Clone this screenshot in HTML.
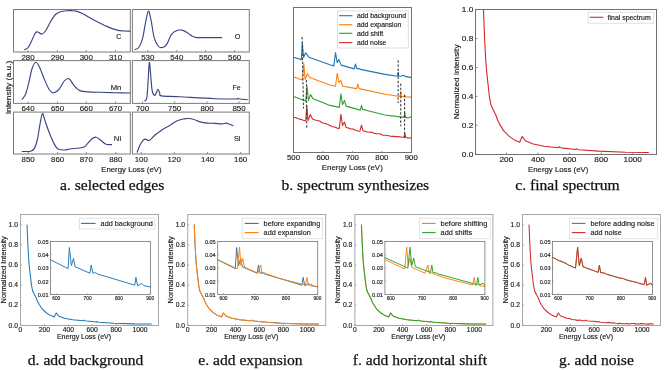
<!DOCTYPE html>
<html><head><meta charset="utf-8"><title>figure</title>
<style>html,body{margin:0;padding:0;background:#fff;width:670px;height:370px;overflow:hidden}svg{display:block;will-change:transform}</style>
</head><body>
<svg width="670" height="370" viewBox="0 0 670 370">
<rect x="0" y="0" width="670" height="370" fill="#fff"/>
<rect x="13.5" y="9.5" width="116.8" height="42.5" fill="none" stroke="#7a7a7a" stroke-width="1"/>
<rect x="132.4" y="9.5" width="116.9" height="42.5" fill="none" stroke="#7a7a7a" stroke-width="1"/>
<rect x="13.5" y="60.6" width="116.8" height="42.8" fill="none" stroke="#7a7a7a" stroke-width="1"/>
<rect x="132.4" y="60.6" width="116.9" height="42.8" fill="none" stroke="#7a7a7a" stroke-width="1"/>
<rect x="13.5" y="112.1" width="116.8" height="41.9" fill="none" stroke="#7a7a7a" stroke-width="1"/>
<rect x="132.4" y="112.1" width="116.9" height="41.9" fill="none" stroke="#7a7a7a" stroke-width="1"/>
<line x1="28" y1="52" x2="28" y2="50" stroke="#7a7a7a" stroke-width="0.8" />
<text x="21.41" y="59.86" font-family="'Liberation Sans', sans-serif" font-size="8" fill="#222" stroke="#222" stroke-width="0.15" textLength="13.17" lengthAdjust="spacingAndGlyphs">280</text>
<line x1="57.5" y1="52" x2="57.5" y2="50" stroke="#7a7a7a" stroke-width="0.8" />
<text x="50.91" y="59.86" font-family="'Liberation Sans', sans-serif" font-size="8" fill="#222" stroke="#222" stroke-width="0.15" textLength="13.17" lengthAdjust="spacingAndGlyphs">290</text>
<line x1="86.3" y1="52" x2="86.3" y2="50" stroke="#7a7a7a" stroke-width="0.8" />
<text x="79.71" y="59.86" font-family="'Liberation Sans', sans-serif" font-size="8" fill="#222" stroke="#222" stroke-width="0.15" textLength="13.17" lengthAdjust="spacingAndGlyphs">300</text>
<line x1="115.5" y1="52" x2="115.5" y2="50" stroke="#7a7a7a" stroke-width="0.8" />
<text x="108.91" y="59.86" font-family="'Liberation Sans', sans-serif" font-size="8" fill="#222" stroke="#222" stroke-width="0.15" textLength="13.17" lengthAdjust="spacingAndGlyphs">310</text>
<line x1="147.8" y1="52" x2="147.8" y2="50" stroke="#7a7a7a" stroke-width="0.8" />
<text x="141.21" y="59.86" font-family="'Liberation Sans', sans-serif" font-size="8" fill="#222" stroke="#222" stroke-width="0.15" textLength="13.17" lengthAdjust="spacingAndGlyphs">530</text>
<line x1="176.8" y1="52" x2="176.8" y2="50" stroke="#7a7a7a" stroke-width="0.8" />
<text x="170.21" y="59.86" font-family="'Liberation Sans', sans-serif" font-size="8" fill="#222" stroke="#222" stroke-width="0.15" textLength="13.17" lengthAdjust="spacingAndGlyphs">540</text>
<line x1="205.6" y1="52" x2="205.6" y2="50" stroke="#7a7a7a" stroke-width="0.8" />
<text x="199.01" y="59.86" font-family="'Liberation Sans', sans-serif" font-size="8" fill="#222" stroke="#222" stroke-width="0.15" textLength="13.17" lengthAdjust="spacingAndGlyphs">550</text>
<line x1="234.6" y1="52" x2="234.6" y2="50" stroke="#7a7a7a" stroke-width="0.8" />
<text x="228.01" y="59.86" font-family="'Liberation Sans', sans-serif" font-size="8" fill="#222" stroke="#222" stroke-width="0.15" textLength="13.17" lengthAdjust="spacingAndGlyphs">560</text>
<line x1="28" y1="103.4" x2="28" y2="101.4" stroke="#7a7a7a" stroke-width="0.8" />
<text x="21.41" y="111.16" font-family="'Liberation Sans', sans-serif" font-size="8" fill="#222" stroke="#222" stroke-width="0.15" textLength="13.17" lengthAdjust="spacingAndGlyphs">640</text>
<line x1="57.5" y1="103.4" x2="57.5" y2="101.4" stroke="#7a7a7a" stroke-width="0.8" />
<text x="50.91" y="111.16" font-family="'Liberation Sans', sans-serif" font-size="8" fill="#222" stroke="#222" stroke-width="0.15" textLength="13.17" lengthAdjust="spacingAndGlyphs">650</text>
<line x1="86.3" y1="103.4" x2="86.3" y2="101.4" stroke="#7a7a7a" stroke-width="0.8" />
<text x="79.71" y="111.16" font-family="'Liberation Sans', sans-serif" font-size="8" fill="#222" stroke="#222" stroke-width="0.15" textLength="13.17" lengthAdjust="spacingAndGlyphs">660</text>
<line x1="115.5" y1="103.4" x2="115.5" y2="101.4" stroke="#7a7a7a" stroke-width="0.8" />
<text x="108.91" y="111.16" font-family="'Liberation Sans', sans-serif" font-size="8" fill="#222" stroke="#222" stroke-width="0.15" textLength="13.17" lengthAdjust="spacingAndGlyphs">670</text>
<line x1="142.5" y1="103.4" x2="142.5" y2="101.4" stroke="#7a7a7a" stroke-width="0.8" />
<text x="135.91" y="111.16" font-family="'Liberation Sans', sans-serif" font-size="8" fill="#222" stroke="#222" stroke-width="0.15" textLength="13.17" lengthAdjust="spacingAndGlyphs">700</text>
<line x1="174.6" y1="103.4" x2="174.6" y2="101.4" stroke="#7a7a7a" stroke-width="0.8" />
<text x="168.01" y="111.16" font-family="'Liberation Sans', sans-serif" font-size="8" fill="#222" stroke="#222" stroke-width="0.15" textLength="13.17" lengthAdjust="spacingAndGlyphs">750</text>
<line x1="207" y1="103.4" x2="207" y2="101.4" stroke="#7a7a7a" stroke-width="0.8" />
<text x="200.41" y="111.16" font-family="'Liberation Sans', sans-serif" font-size="8" fill="#222" stroke="#222" stroke-width="0.15" textLength="13.17" lengthAdjust="spacingAndGlyphs">800</text>
<line x1="239" y1="103.4" x2="239" y2="101.4" stroke="#7a7a7a" stroke-width="0.8" />
<text x="232.41" y="111.16" font-family="'Liberation Sans', sans-serif" font-size="8" fill="#222" stroke="#222" stroke-width="0.15" textLength="13.17" lengthAdjust="spacingAndGlyphs">850</text>
<line x1="28.1" y1="154" x2="28.1" y2="152" stroke="#7a7a7a" stroke-width="0.8" />
<text x="21.51" y="162.06" font-family="'Liberation Sans', sans-serif" font-size="8" fill="#222" stroke="#222" stroke-width="0.15" textLength="13.17" lengthAdjust="spacingAndGlyphs">850</text>
<line x1="57.6" y1="154" x2="57.6" y2="152" stroke="#7a7a7a" stroke-width="0.8" />
<text x="51.01" y="162.06" font-family="'Liberation Sans', sans-serif" font-size="8" fill="#222" stroke="#222" stroke-width="0.15" textLength="13.17" lengthAdjust="spacingAndGlyphs">860</text>
<line x1="86.3" y1="154" x2="86.3" y2="152" stroke="#7a7a7a" stroke-width="0.8" />
<text x="79.71" y="162.06" font-family="'Liberation Sans', sans-serif" font-size="8" fill="#222" stroke="#222" stroke-width="0.15" textLength="13.17" lengthAdjust="spacingAndGlyphs">870</text>
<line x1="115.8" y1="154" x2="115.8" y2="152" stroke="#7a7a7a" stroke-width="0.8" />
<text x="109.21" y="162.06" font-family="'Liberation Sans', sans-serif" font-size="8" fill="#222" stroke="#222" stroke-width="0.15" textLength="13.17" lengthAdjust="spacingAndGlyphs">880</text>
<line x1="141.3" y1="154" x2="141.3" y2="152" stroke="#7a7a7a" stroke-width="0.8" />
<text x="134.71" y="162.06" font-family="'Liberation Sans', sans-serif" font-size="8" fill="#222" stroke="#222" stroke-width="0.15" textLength="13.17" lengthAdjust="spacingAndGlyphs">100</text>
<line x1="174.2" y1="154" x2="174.2" y2="152" stroke="#7a7a7a" stroke-width="0.8" />
<text x="167.61" y="162.06" font-family="'Liberation Sans', sans-serif" font-size="8" fill="#222" stroke="#222" stroke-width="0.15" textLength="13.17" lengthAdjust="spacingAndGlyphs">120</text>
<line x1="207.6" y1="154" x2="207.6" y2="152" stroke="#7a7a7a" stroke-width="0.8" />
<text x="201.01" y="162.06" font-family="'Liberation Sans', sans-serif" font-size="8" fill="#222" stroke="#222" stroke-width="0.15" textLength="13.17" lengthAdjust="spacingAndGlyphs">140</text>
<line x1="240.6" y1="154" x2="240.6" y2="152" stroke="#7a7a7a" stroke-width="0.8" />
<text x="234.01" y="162.06" font-family="'Liberation Sans', sans-serif" font-size="8" fill="#222" stroke="#222" stroke-width="0.15" textLength="13.17" lengthAdjust="spacingAndGlyphs">160</text>
<text x="116.22" y="38.79" font-family="'Liberation Sans', sans-serif" font-size="7.8" fill="#222" stroke="#222" stroke-width="0.15" textLength="4.96" lengthAdjust="spacingAndGlyphs">C</text>
<text x="234.71" y="38.79" font-family="'Liberation Sans', sans-serif" font-size="7.8" fill="#222" stroke="#222" stroke-width="0.15" textLength="5.59" lengthAdjust="spacingAndGlyphs">O</text>
<text x="110.69" y="89.99" font-family="'Liberation Sans', sans-serif" font-size="7.8" fill="#222" stroke="#222" stroke-width="0.15" textLength="10.63" lengthAdjust="spacingAndGlyphs">Mn</text>
<text x="232.47" y="89.79" font-family="'Liberation Sans', sans-serif" font-size="7.8" fill="#222" stroke="#222" stroke-width="0.15" textLength="8.06" lengthAdjust="spacingAndGlyphs">Fe</text>
<text x="113.86" y="140.99" font-family="'Liberation Sans', sans-serif" font-size="7.8" fill="#222" stroke="#222" stroke-width="0.15" textLength="7.28" lengthAdjust="spacingAndGlyphs">Ni</text>
<text x="233.96" y="140.79" font-family="'Liberation Sans', sans-serif" font-size="7.8" fill="#222" stroke="#222" stroke-width="0.15" textLength="6.48" lengthAdjust="spacingAndGlyphs">Si</text>
<text x="-26.84" y="0" transform="translate(11.4 87.5) rotate(-90)" font-family="'Liberation Sans', sans-serif" font-size="7.3" fill="#222" stroke="#222" stroke-width="0.15" textLength="53.68" lengthAdjust="spacingAndGlyphs">Intensity (a.u.)</text>
<text x="101.21" y="171.87" font-family="'Liberation Sans', sans-serif" font-size="6.9" fill="#222" stroke="#222" stroke-width="0.15" textLength="60.38" lengthAdjust="spacingAndGlyphs">Energy Loss (eV)</text>
<path d="M24.8 49.6 C25.35 49.25 26.92 49.05 28.1 47.5 C29.28 45.95 30.75 42.63 31.9 40.3 C33.05 37.97 34.18 34.9 35 33.5 C35.82 32.1 36.13 32.05 36.8 31.9 C37.47 31.75 38.17 32.23 39 32.6 C39.83 32.97 40.72 34.37 41.8 34.1 C42.88 33.83 44.05 33.07 45.5 31 C46.95 28.93 48.83 24.45 50.5 21.7 C52.17 18.95 53.85 16.17 55.5 14.5 C57.15 12.83 58.53 12.33 60.4 11.7 C62.27 11.07 64.77 10.87 66.7 10.7 C68.63 10.53 70.42 10.63 72 10.7 C73.58 10.77 74.47 10.62 76.2 11.1 C77.93 11.58 79.3 12.05 82.4 13.6 C85.5 15.15 90.65 18.23 94.8 20.4 C98.95 22.57 103.57 24.98 107.3 26.6 C111.03 28.22 114.52 29.37 117.2 30.1 C119.88 30.83 121.23 30.82 123.4 31 C125.57 31.18 129.07 31.17 130.2 31.2" fill="none" stroke="#3b4584" stroke-width="1.15" stroke-linejoin="round" stroke-linecap="round"/>
<path d="M135 49.4 C135.62 49.08 137.47 49.22 138.7 47.5 C139.93 45.78 141.27 43.2 142.4 39.1 C143.53 35 144.5 27.57 145.5 22.9 C146.5 18.23 147.47 11.52 148.4 11.1 C149.33 10.68 150.13 15.95 151.1 20.4 C152.07 24.85 152.95 33.45 154.2 37.8 C155.45 42.15 157.25 44.88 158.6 46.5 C159.95 48.12 160.97 47.82 162.3 47.5 C163.63 47.18 165.15 46.63 166.6 44.6 C168.05 42.57 169.65 37.5 171 35.3 C172.35 33.1 172.83 32.27 174.7 31.4 C176.57 30.53 179.92 29.75 182.2 30.1 C184.48 30.45 186.77 32.52 188.4 33.5 C190.03 34.48 190.9 35.38 192 36 C193.1 36.62 193.68 36.93 195 37.2 C196.32 37.47 195.45 37.53 199.9 37.6 C204.35 37.67 218.07 37.6 221.7 37.6" fill="none" stroke="#3b4584" stroke-width="1.15" stroke-linejoin="round" stroke-linecap="round"/>
<path d="M22.2 99.2 C22.78 98.33 24.6 96.73 25.7 94 C26.8 91.27 27.77 86.93 28.8 82.8 C29.83 78.67 30.77 72.62 31.9 69.2 C33.03 65.78 34.37 62.72 35.6 62.3 C36.83 61.88 37.85 63.9 39.3 66.7 C40.75 69.5 42.63 75.27 44.3 79.1 C45.97 82.93 47.75 87.42 49.3 89.7 C50.85 91.98 51.95 92.9 53.6 92.8 C55.25 92.7 57.43 91.07 59.2 89.1 C60.97 87.13 62.75 82.77 64.2 81 C65.65 79.23 66.93 78.72 67.9 78.5 C68.87 78.28 69.23 78.9 70 79.7 C70.77 80.5 71.67 82.15 72.5 83.3 C73.33 84.45 74.17 85.63 75 86.6 C75.83 87.57 76.67 88.43 77.5 89.1 C78.33 89.77 79.08 90.22 80 90.6 C80.92 90.98 81.67 91.18 83 91.4 C84.33 91.62 85.17 91.75 88 91.9 C90.83 92.05 95.5 92.17 100 92.3 C104.5 92.43 109.97 92.58 115 92.7 C120.03 92.82 127.67 92.95 130.2 93" fill="none" stroke="#3b4584" stroke-width="1.15" stroke-linejoin="round" stroke-linecap="round"/>
<path d="M144.9 100.9 C145.22 100.38 146.28 100.82 146.8 97.8 C147.32 94.78 147.58 88.65 148 82.8 C148.42 76.95 148.88 64.35 149.3 62.7 C149.72 61.05 150.03 68.3 150.5 72.9 C150.97 77.5 151.48 86.57 152.1 90.3 C152.72 94.03 153.58 94.68 154.2 95.3 C154.82 95.92 155.17 95 155.8 94 C156.43 93 157.33 89.4 158 89.3 C158.67 89.2 159.18 92.3 159.8 93.4 C160.42 94.5 158.38 95.33 161.7 95.9 C165.02 96.47 170.85 96.33 179.7 96.8 C188.55 97.27 205.42 98.33 214.8 98.7 C224.18 99.07 232.17 99.05 236 99 C239.83 98.95 237.22 98.4 237.8 98.4 C238.38 98.4 237.95 98.8 239.5 99 C241.05 99.2 245.83 99.5 247.1 99.6" fill="none" stroke="#3b4584" stroke-width="1.15" stroke-linejoin="round" stroke-linecap="round"/>
<path d="M22.2 151.5 C23.6 151.45 28.57 151.72 30.6 151.2 C32.63 150.68 33.25 150.43 34.4 148.4 C35.55 146.37 36.57 143.05 37.5 139 C38.43 134.95 39.18 128.33 40 124.1 C40.82 119.87 41.58 114.22 42.4 113.6 C43.22 112.98 43.75 117.2 44.9 120.4 C46.05 123.6 47.75 128.87 49.3 132.8 C50.85 136.73 52.75 141.3 54.2 144 C55.65 146.7 56.33 148 58 149 C59.67 150 62.2 150 64.2 150 C66.2 150 66.97 149.42 70 149 C73.03 148.58 79.72 148.12 82.4 147.5 C85.08 146.88 84.55 146.72 86.1 145.3 C87.65 143.88 90.03 140.35 91.7 139 C93.37 137.65 94.55 136.95 96.1 137.2 C97.65 137.45 99.35 139.32 101 140.5 C102.65 141.68 104.23 143.62 106 144.3 C107.77 144.98 110.67 144.55 111.6 144.6" fill="none" stroke="#3b4584" stroke-width="1.15" stroke-linejoin="round" stroke-linecap="round"/>
<path d="M137.2 152.1 C137.65 150.97 138.93 147.27 139.9 145.3 C140.87 143.33 142.07 141.33 143 140.3 C143.93 139.27 144.45 139.07 145.5 139.1 C146.55 139.13 147.75 141.13 149.3 140.5 C150.85 139.87 152.63 137.1 154.8 135.3 C156.97 133.5 159.8 131.35 162.3 129.7 C164.8 128.05 167.22 126.92 169.8 125.4 C172.38 123.88 175.43 121.68 177.8 120.6 C180.17 119.52 182.13 119.25 184 118.9 C185.87 118.55 187.33 118.4 189 118.5 C190.67 118.6 192.33 119 194 119.5 C195.67 120 197.17 120.93 199 121.5 C200.83 122.07 202.37 122.58 205 122.9 C207.63 123.22 211.97 123.23 214.8 123.4 C217.63 123.57 220.13 123.95 222 123.9 C223.87 123.85 224.83 123.08 226 123.1 C227.17 123.12 227.85 123.58 229 124 C230.15 124.42 232.25 125.33 232.9 125.6" fill="none" stroke="#3b4584" stroke-width="1.15" stroke-linejoin="round" stroke-linecap="round"/>
<path d="M293.5 57.3 L301.4 59.6 L302.3 43 L303.6 57.5 L305.6 52.8 L308.9 57.2 L330 64.7 L333.9 65.9 L335.5 52.6 L337.2 62.7 L338.8 59.5 L341.2 65.1 L354.2 68.9 L355.5 64 L356.8 68.6 L359 68.6 L360.5 69.4 L385 74.4 L397.6 76.2 L398.2 72 L398.8 76.2 L401 76.3 L403.6 75.2 L405 76.4 L411.5 77.6" fill="none" stroke="#1f77b4" stroke-width="1.1" stroke-linejoin="round" stroke-linecap="round" />
<path d="M293.5 77.1 L302.4 80.1 L303.8 63.6 L305.1 79.5 L307.3 73.6 L309.6 77.6 L330 85 L335.5 86.2 L337.2 73.2 L338.9 82.5 L340.7 80.5 L342.8 86.2 L356.6 88.6 L357.8 84.1 L359 88.6 L385 94.3 L400 96.5 L400.7 91.8 L401.4 96.6 L403.5 96.6 L404.6 95.5 L405.6 96.9 L411.5 97.1" fill="none" stroke="#ff7f0e" stroke-width="1.1" stroke-linejoin="round" stroke-linecap="round" />
<path d="M293.5 96.4 L305.7 101.1 L307 86 L308.4 100.5 L310.5 94.6 L312.7 98.4 L330 105.4 L339.3 107.4 L340.9 93.9 L342.5 104.5 L344.5 100.4 L346.1 106.1 L360.3 110.1 L361.5 105.3 L362.7 109.8 L364.7 109.6 L366 110.3 L385 115 L404 117.4 L404.8 112.5 L405.6 117.4 L408 118 L411.5 116.6" fill="none" stroke="#2ca02c" stroke-width="1.1" stroke-linejoin="round" stroke-linecap="round" />
<path d="M293.5 117.2 L295.94 117.7 L298.38 118.76 L300.82 119.35 L303.26 120.34 L305.7 121 L306.8 105.8 L308 120.5 L310.3 114.5 L312.5 119 L315 120.05 L317.5 120.42 L320 121.3 L322.5 123.05 L325 123.4 L327.5 124.31 L330 125.5 L332.32 126.75 L334.65 126.97 L336.98 128.09 L339.3 128.5 L340.9 114.2 L342.5 125.5 L344.5 122 L346.1 127.5 L348.4 128.09 L350.7 128.87 L353 129 L355.3 130.1 L357.6 130.95 L359.9 131.2 L361.5 125.2 L363 130.8 L365.2 131.27 L367.4 131.94 L369.6 132.32 L371.8 132.16 L374 133.31 L376.2 133.59 L378.4 133.75 L380.6 133.93 L382.8 135.22 L385 135.3 L387.38 135.5 L389.75 135.97 L392.12 136.35 L394.5 136.41 L396.88 136.85 L399.25 136.54 L401.62 137.18 L404 137.1 L404.8 133.3 L405.6 137.1 L408 138.2 L411.5 137.6" fill="none" stroke="#d62728" stroke-width="1.1" stroke-linejoin="round" stroke-linecap="round" />
<line x1="302.1" y1="37" x2="303.5" y2="108.5" stroke="#333" stroke-width="1.0" stroke-dasharray="2.5 1.6"/>
<line x1="306.4" y1="80" x2="306.8" y2="128.5" stroke="#333" stroke-width="1.0" stroke-dasharray="2.5 1.6"/>
<line x1="398.2" y1="60.3" x2="398.1" y2="103.1" stroke="#333" stroke-width="1.0" stroke-dasharray="2.5 1.6"/>
<line x1="400.8" y1="83.5" x2="400.7" y2="126.3" stroke="#333" stroke-width="1.0" stroke-dasharray="2.5 1.6"/>
<line x1="404.6" y1="94.7" x2="404.6" y2="138.4" stroke="#333" stroke-width="1.0" stroke-dasharray="2.5 1.6"/>
<rect x="293.5" y="7.5" width="118" height="145" fill="none" stroke="#707070" stroke-width="1"/>
<line x1="293.5" y1="152.5" x2="293.5" y2="151" stroke="#707070" stroke-width="0.8" />
<text x="287.01" y="160.44" font-family="'Liberation Sans', sans-serif" font-size="7.1" fill="#222" stroke="#222" stroke-width="0.15" textLength="12.98" lengthAdjust="spacingAndGlyphs">500</text>
<line x1="322.95" y1="152.5" x2="322.95" y2="151" stroke="#707070" stroke-width="0.8" />
<text x="316.46" y="160.44" font-family="'Liberation Sans', sans-serif" font-size="7.1" fill="#222" stroke="#222" stroke-width="0.15" textLength="12.98" lengthAdjust="spacingAndGlyphs">600</text>
<line x1="352.4" y1="152.5" x2="352.4" y2="151" stroke="#707070" stroke-width="0.8" />
<text x="345.91" y="160.44" font-family="'Liberation Sans', sans-serif" font-size="7.1" fill="#222" stroke="#222" stroke-width="0.15" textLength="12.98" lengthAdjust="spacingAndGlyphs">700</text>
<line x1="381.85" y1="152.5" x2="381.85" y2="151" stroke="#707070" stroke-width="0.8" />
<text x="375.36" y="160.44" font-family="'Liberation Sans', sans-serif" font-size="7.1" fill="#222" stroke="#222" stroke-width="0.15" textLength="12.98" lengthAdjust="spacingAndGlyphs">800</text>
<line x1="411.3" y1="152.5" x2="411.3" y2="151" stroke="#707070" stroke-width="0.8" />
<text x="404.81" y="160.44" font-family="'Liberation Sans', sans-serif" font-size="7.1" fill="#222" stroke="#222" stroke-width="0.15" textLength="12.98" lengthAdjust="spacingAndGlyphs">900</text>
<text x="321.81" y="170.47" font-family="'Liberation Sans', sans-serif" font-size="6.9" fill="#222" stroke="#222" stroke-width="0.15" textLength="60.97" lengthAdjust="spacingAndGlyphs">Energy Loss (eV)</text>
<rect x="337.5" y="10.9" width="70.8" height="37.1" fill="rgba(255,255,255,0.85)" stroke="#d8d8d8" stroke-width="0.8"/>
<line x1="339" y1="15.7" x2="352.4" y2="15.7" stroke="#1f77b4" stroke-width="1.1" />
<text x="356.9" y="18.06" font-family="'Liberation Sans', sans-serif" font-size="6.6" fill="#222" stroke="#222" stroke-width="0.15" textLength="49.18" lengthAdjust="spacingAndGlyphs">add background</text>
<line x1="339" y1="24.7" x2="352.4" y2="24.7" stroke="#ff7f0e" stroke-width="1.1" />
<text x="356.9" y="27.06" font-family="'Liberation Sans', sans-serif" font-size="6.6" fill="#222" stroke="#222" stroke-width="0.15" textLength="44.33" lengthAdjust="spacingAndGlyphs">add expansion</text>
<line x1="339" y1="33.3" x2="352.4" y2="33.3" stroke="#2ca02c" stroke-width="1.1" />
<text x="356.9" y="35.66" font-family="'Liberation Sans', sans-serif" font-size="6.6" fill="#222" stroke="#222" stroke-width="0.15" textLength="26.42" lengthAdjust="spacingAndGlyphs">add shift</text>
<line x1="339" y1="42.6" x2="352.4" y2="42.6" stroke="#d62728" stroke-width="1.1" />
<text x="356.9" y="44.96" font-family="'Liberation Sans', sans-serif" font-size="6.6" fill="#222" stroke="#222" stroke-width="0.15" textLength="29.45" lengthAdjust="spacingAndGlyphs">add noise</text>
<path d="M483.49 9.7 L484.6 38.6 L485.7 59.99 L486.65 71.4 L488.23 86 L489.49 97.27 L491.07 105.36 L493.44 110.27 L496.13 115.76 L497.55 119.95 L499.45 123.85 L503.56 130.65 L508.93 136.14 L514.3 139.89 L519.67 142.21 L522.2 136.43 L525.36 140.76 L533.26 143.94 L544.16 146.25 L558.22 147.7 L559.01 146.69 L560.12 147.55 L563.28 148.13 L575.6 149.43 L576.39 148.71 L577.5 149.29 L579.08 149.72 L598.67 151.17 L625.53 152.18 L648.44 152.47" fill="none" stroke="#d62728" stroke-width="1.1" stroke-linejoin="round" stroke-linecap="round" />
<rect x="475.5" y="9.5" width="181" height="145" fill="none" stroke="#707070" stroke-width="1"/>
<line x1="475.5" y1="154.2" x2="477.5" y2="154.2" stroke="#707070" stroke-width="0.8" />
<text x="461.85" y="156.63" font-family="'Liberation Sans', sans-serif" font-size="6.8" fill="#222" stroke="#222" stroke-width="0.15" textLength="11.45" lengthAdjust="spacingAndGlyphs">0.0</text>
<line x1="475.5" y1="125.3" x2="477.5" y2="125.3" stroke="#707070" stroke-width="0.8" />
<text x="461.85" y="127.73" font-family="'Liberation Sans', sans-serif" font-size="6.8" fill="#222" stroke="#222" stroke-width="0.15" textLength="11.45" lengthAdjust="spacingAndGlyphs">0.2</text>
<line x1="475.5" y1="96.4" x2="477.5" y2="96.4" stroke="#707070" stroke-width="0.8" />
<text x="461.85" y="98.83" font-family="'Liberation Sans', sans-serif" font-size="6.8" fill="#222" stroke="#222" stroke-width="0.15" textLength="11.45" lengthAdjust="spacingAndGlyphs">0.4</text>
<line x1="475.5" y1="67.5" x2="477.5" y2="67.5" stroke="#707070" stroke-width="0.8" />
<text x="461.85" y="69.93" font-family="'Liberation Sans', sans-serif" font-size="6.8" fill="#222" stroke="#222" stroke-width="0.15" textLength="11.45" lengthAdjust="spacingAndGlyphs">0.6</text>
<line x1="475.5" y1="38.6" x2="477.5" y2="38.6" stroke="#707070" stroke-width="0.8" />
<text x="461.85" y="41.03" font-family="'Liberation Sans', sans-serif" font-size="6.8" fill="#222" stroke="#222" stroke-width="0.15" textLength="11.45" lengthAdjust="spacingAndGlyphs">0.8</text>
<line x1="475.5" y1="9.7" x2="477.5" y2="9.7" stroke="#707070" stroke-width="0.8" />
<text x="461.85" y="12.13" font-family="'Liberation Sans', sans-serif" font-size="6.8" fill="#222" stroke="#222" stroke-width="0.15" textLength="11.45" lengthAdjust="spacingAndGlyphs">1.0</text>
<line x1="506.4" y1="154.5" x2="506.4" y2="152.5" stroke="#707070" stroke-width="0.8" />
<text x="499.53" y="161.87" font-family="'Liberation Sans', sans-serif" font-size="6.9" fill="#222" stroke="#222" stroke-width="0.15" textLength="13.74" lengthAdjust="spacingAndGlyphs">200</text>
<line x1="538" y1="154.5" x2="538" y2="152.5" stroke="#707070" stroke-width="0.8" />
<text x="531.13" y="161.87" font-family="'Liberation Sans', sans-serif" font-size="6.9" fill="#222" stroke="#222" stroke-width="0.15" textLength="13.74" lengthAdjust="spacingAndGlyphs">400</text>
<line x1="569.6" y1="154.5" x2="569.6" y2="152.5" stroke="#707070" stroke-width="0.8" />
<text x="562.73" y="161.87" font-family="'Liberation Sans', sans-serif" font-size="6.9" fill="#222" stroke="#222" stroke-width="0.15" textLength="13.74" lengthAdjust="spacingAndGlyphs">600</text>
<line x1="601.2" y1="154.5" x2="601.2" y2="152.5" stroke="#707070" stroke-width="0.8" />
<text x="594.33" y="161.87" font-family="'Liberation Sans', sans-serif" font-size="6.9" fill="#222" stroke="#222" stroke-width="0.15" textLength="13.74" lengthAdjust="spacingAndGlyphs">800</text>
<line x1="632.8" y1="154.5" x2="632.8" y2="152.5" stroke="#707070" stroke-width="0.8" />
<text x="623.64" y="161.87" font-family="'Liberation Sans', sans-serif" font-size="6.9" fill="#222" stroke="#222" stroke-width="0.15" textLength="18.32" lengthAdjust="spacingAndGlyphs">1000</text>
<text x="-37.33" y="0" transform="translate(458.7 81.8) rotate(-90)" font-family="'Liberation Sans', sans-serif" font-size="6.9" fill="#222" stroke="#222" stroke-width="0.15" textLength="74.66" lengthAdjust="spacingAndGlyphs">Normalized Intensity</text>
<text x="528.09" y="171.77" font-family="'Liberation Sans', sans-serif" font-size="6.9" fill="#222" stroke="#222" stroke-width="0.15" textLength="60.21" lengthAdjust="spacingAndGlyphs">Energy Loss (eV)</text>
<rect x="588.2" y="12.2" width="65.6" height="11" fill="white" stroke="#d8d8d8" stroke-width="0.8"/>
<line x1="589.8" y1="17.3" x2="603.2" y2="17.3" stroke="#d62728" stroke-width="1.1" />
<text x="607.6" y="19.66" font-family="'Liberation Sans', sans-serif" font-size="6.6" fill="#222" stroke="#222" stroke-width="0.15" textLength="43.08" lengthAdjust="spacingAndGlyphs">final spectrum</text>
<text x="112.2" y="190.3" font-family="'Liberation Serif', serif" font-size="15.6" fill="#111" stroke="#111" stroke-width="0.25" text-anchor="middle" >a. selected edges</text>
<text x="355.3" y="190.2" font-family="'Liberation Serif', serif" font-size="15.6" fill="#111" stroke="#111" stroke-width="0.25" text-anchor="middle" >b. spectrum synthesizes</text>
<text x="567.5" y="190.3" font-family="'Liberation Serif', serif" font-size="15.6" fill="#111" stroke="#111" stroke-width="0.25" text-anchor="middle" >c. final spectrum</text>
<path d="M27.05 224.9 L27.88 244.98 L28.71 259.84 L29.42 267.77 L30.62 277.91 L31.57 285.74 L32.76 291.36 L34.54 294.78 L36.56 298.59 L37.64 301.51 L39.06 304.22 L42.16 308.93 L46.2 312.75 L50.25 315.36 L54.3 316.97 L56.2 312.95 L58.58 315.96 L64.53 318.17 L72.74 319.78 L83.33 320.78 L83.93 320.08 L84.76 320.68 L87.14 321.08 L96.42 321.99 L97.02 321.48 L97.85 321.89 L99.04 322.19 L113.8 323.19 L134.03 323.89 L151.28 324.1" fill="none" stroke="#1f77b4" stroke-width="1.05" stroke-linejoin="round" stroke-linecap="round" />
<rect x="20.5" y="214.5" width="138" height="111" fill="none" stroke="#a8a8a8" stroke-width="1"/>
<line x1="20.5" y1="325.3" x2="22" y2="325.3" stroke="#999" stroke-width="0.8" />
<text x="8.52" y="327.56" font-family="'Liberation Sans', sans-serif" font-size="6.3" fill="#222" stroke="#222" stroke-width="0.15" textLength="9.38" lengthAdjust="spacingAndGlyphs">0.0</text>
<line x1="20.5" y1="305.22" x2="22" y2="305.22" stroke="#999" stroke-width="0.8" />
<text x="8.52" y="307.48" font-family="'Liberation Sans', sans-serif" font-size="6.3" fill="#222" stroke="#222" stroke-width="0.15" textLength="9.38" lengthAdjust="spacingAndGlyphs">0.2</text>
<line x1="20.5" y1="285.14" x2="22" y2="285.14" stroke="#999" stroke-width="0.8" />
<text x="8.52" y="287.4" font-family="'Liberation Sans', sans-serif" font-size="6.3" fill="#222" stroke="#222" stroke-width="0.15" textLength="9.38" lengthAdjust="spacingAndGlyphs">0.4</text>
<line x1="20.5" y1="265.06" x2="22" y2="265.06" stroke="#999" stroke-width="0.8" />
<text x="8.52" y="267.32" font-family="'Liberation Sans', sans-serif" font-size="6.3" fill="#222" stroke="#222" stroke-width="0.15" textLength="9.38" lengthAdjust="spacingAndGlyphs">0.6</text>
<line x1="20.5" y1="244.98" x2="22" y2="244.98" stroke="#999" stroke-width="0.8" />
<text x="8.52" y="247.24" font-family="'Liberation Sans', sans-serif" font-size="6.3" fill="#222" stroke="#222" stroke-width="0.15" textLength="9.38" lengthAdjust="spacingAndGlyphs">0.8</text>
<line x1="20.5" y1="224.9" x2="22" y2="224.9" stroke="#999" stroke-width="0.8" />
<text x="8.52" y="227.16" font-family="'Liberation Sans', sans-serif" font-size="6.3" fill="#222" stroke="#222" stroke-width="0.15" textLength="9.38" lengthAdjust="spacingAndGlyphs">1.0</text>
<line x1="20.5" y1="325.5" x2="20.5" y2="324" stroke="#999" stroke-width="0.8" />
<text x="18.62" y="332.06" font-family="'Liberation Sans', sans-serif" font-size="6.3" fill="#222" stroke="#222" stroke-width="0.15" textLength="3.75" lengthAdjust="spacingAndGlyphs">0</text>
<line x1="44.4" y1="325.5" x2="44.4" y2="324" stroke="#999" stroke-width="0.8" />
<text x="38.77" y="332.06" font-family="'Liberation Sans', sans-serif" font-size="6.3" fill="#222" stroke="#222" stroke-width="0.15" textLength="11.26" lengthAdjust="spacingAndGlyphs">200</text>
<line x1="68.3" y1="325.5" x2="68.3" y2="324" stroke="#999" stroke-width="0.8" />
<text x="62.67" y="332.06" font-family="'Liberation Sans', sans-serif" font-size="6.3" fill="#222" stroke="#222" stroke-width="0.15" textLength="11.26" lengthAdjust="spacingAndGlyphs">400</text>
<line x1="92.2" y1="325.5" x2="92.2" y2="324" stroke="#999" stroke-width="0.8" />
<text x="86.57" y="332.06" font-family="'Liberation Sans', sans-serif" font-size="6.3" fill="#222" stroke="#222" stroke-width="0.15" textLength="11.26" lengthAdjust="spacingAndGlyphs">600</text>
<line x1="116.1" y1="325.5" x2="116.1" y2="324" stroke="#999" stroke-width="0.8" />
<text x="110.47" y="332.06" font-family="'Liberation Sans', sans-serif" font-size="6.3" fill="#222" stroke="#222" stroke-width="0.15" textLength="11.26" lengthAdjust="spacingAndGlyphs">800</text>
<line x1="140" y1="325.5" x2="140" y2="324" stroke="#999" stroke-width="0.8" />
<text x="132.49" y="332.06" font-family="'Liberation Sans', sans-serif" font-size="6.3" fill="#222" stroke="#222" stroke-width="0.15" textLength="15.02" lengthAdjust="spacingAndGlyphs">1000</text>
<text x="-33.61" y="0" transform="translate(5.9 269.8) rotate(-90)" font-family="'Liberation Sans', sans-serif" font-size="6.4" fill="#222" stroke="#222" stroke-width="0.15" textLength="67.22" lengthAdjust="spacingAndGlyphs">Normalized Intensity</text>
<text x="56.96" y="338.93" font-family="'Liberation Sans', sans-serif" font-size="6.5" fill="#222" stroke="#222" stroke-width="0.15" textLength="54.07" lengthAdjust="spacingAndGlyphs">Energy Loss (eV)</text>
<rect x="79.5" y="218.2" width="75.3" height="10.9" fill="white" stroke="#dcdcdc" stroke-width="0.8"/>
<line x1="81.1" y1="223.4" x2="95.6" y2="223.4" stroke="#1f77b4" stroke-width="1.1" />
<text x="100.6" y="226.21" font-family="'Liberation Sans', sans-serif" font-size="7.3" fill="#222" stroke="#222" stroke-width="0.15" textLength="52.34" lengthAdjust="spacingAndGlyphs">add background</text>
<rect x="50.5" y="241.5" width="100" height="53" fill="white" stroke="#777" stroke-width="0.8"/>
<path d="M50.5 259.8 L68.1 268.6 L69.4 247.5 L71.4 265.6 L73.5 258.4 L75.1 266.8 L89.9 273.2 L91.2 265.1 L92.9 273.2 L95.7 272.7 L97.5 274 L111.6 278.2 L134.8 285.2 L135.9 277.4 L137.6 285.7 L141.8 283.6 L143.8 285.7 L150.5 286.9" fill="none" stroke="#1f77b4" stroke-width="0.95" stroke-linejoin="round" stroke-linecap="round" />
<line x1="50.5" y1="241.5" x2="51.7" y2="241.5" stroke="#777" stroke-width="0.6" />
<text x="37.7" y="243.85" font-family="'Liberation Sans', sans-serif" font-size="4.9" fill="#222" stroke="#222" stroke-width="0.15" textLength="10.8" lengthAdjust="spacingAndGlyphs">0.05</text>
<line x1="50.5" y1="254.75" x2="51.7" y2="254.75" stroke="#777" stroke-width="0.6" />
<text x="37.7" y="257.15" font-family="'Liberation Sans', sans-serif" font-size="4.9" fill="#222" stroke="#222" stroke-width="0.15" textLength="10.8" lengthAdjust="spacingAndGlyphs">0.04</text>
<line x1="50.5" y1="268" x2="51.7" y2="268" stroke="#777" stroke-width="0.6" />
<text x="37.7" y="270.45" font-family="'Liberation Sans', sans-serif" font-size="4.9" fill="#222" stroke="#222" stroke-width="0.15" textLength="10.8" lengthAdjust="spacingAndGlyphs">0.03</text>
<line x1="50.5" y1="281.25" x2="51.7" y2="281.25" stroke="#777" stroke-width="0.6" />
<text x="37.7" y="283.75" font-family="'Liberation Sans', sans-serif" font-size="4.9" fill="#222" stroke="#222" stroke-width="0.15" textLength="10.8" lengthAdjust="spacingAndGlyphs">0.02</text>
<line x1="50.5" y1="294.5" x2="51.7" y2="294.5" stroke="#777" stroke-width="0.6" />
<text x="37.7" y="297.05" font-family="'Liberation Sans', sans-serif" font-size="4.9" fill="#222" stroke="#222" stroke-width="0.15" textLength="10.8" lengthAdjust="spacingAndGlyphs">0.01</text>
<line x1="56.3" y1="294.5" x2="56.3" y2="293.3" stroke="#777" stroke-width="0.6" />
<text x="52.31" y="300.15" font-family="'Liberation Sans', sans-serif" font-size="4.9" fill="#222" stroke="#222" stroke-width="0.15" textLength="7.98" lengthAdjust="spacingAndGlyphs">600</text>
<line x1="87.6" y1="294.5" x2="87.6" y2="293.3" stroke="#777" stroke-width="0.6" />
<text x="83.61" y="300.15" font-family="'Liberation Sans', sans-serif" font-size="4.9" fill="#222" stroke="#222" stroke-width="0.15" textLength="7.98" lengthAdjust="spacingAndGlyphs">700</text>
<line x1="118.9" y1="294.5" x2="118.9" y2="293.3" stroke="#777" stroke-width="0.6" />
<text x="114.91" y="300.15" font-family="'Liberation Sans', sans-serif" font-size="4.9" fill="#222" stroke="#222" stroke-width="0.15" textLength="7.98" lengthAdjust="spacingAndGlyphs">800</text>
<line x1="150.2" y1="294.5" x2="150.2" y2="293.3" stroke="#777" stroke-width="0.6" />
<text x="146.21" y="300.15" font-family="'Liberation Sans', sans-serif" font-size="4.9" fill="#222" stroke="#222" stroke-width="0.15" textLength="7.98" lengthAdjust="spacingAndGlyphs">900</text>
<text x="85.6" y="365.3" font-family="'Liberation Serif', serif" font-size="15.6" fill="#111" stroke="#111" stroke-width="0.25" text-anchor="middle" >d. add background</text>
<path d="M194.24 224.9 L195.08 244.98 L195.91 259.84 L196.62 267.77 L197.81 277.91 L198.77 285.74 L199.96 291.36 L201.74 294.78 L203.76 298.59 L204.84 301.51 L206.26 304.22 L209.36 308.93 L213.4 312.75 L217.45 315.36 L221.5 316.97 L223.4 312.95 L225.78 315.96 L231.73 318.17 L239.94 319.78 L250.53 320.78 L251.13 320.08 L251.96 320.68 L254.34 321.08 L263.62 321.99 L264.22 321.48 L265.05 321.89 L266.24 322.19 L281 323.19 L301.23 323.89 L318.48 324.1" fill="none" stroke="#1f77b4" stroke-width="0.8" stroke-linejoin="round" stroke-linecap="round" />
<path d="M194.24 224.9 L195.08 244.98 L195.91 259.84 L196.62 267.77 L197.81 277.91 L198.77 285.74 L199.96 291.36 L201.74 294.78 L203.76 298.59 L204.84 301.51 L206.26 304.22 L209.36 308.93 L213.4 312.75 L217.45 315.36 L221.5 316.97 L223.4 312.95 L225.78 315.96 L231.73 318.17 L239.94 319.78 L250.53 320.78 L251.13 320.08 L251.96 320.68 L254.34 321.08 L263.62 321.99 L264.22 321.48 L265.05 321.89 L266.24 322.19 L281 323.19 L301.23 323.89 L318.48 324.1" fill="none" stroke="#ff7f0e" stroke-width="1.05" stroke-linejoin="round" stroke-linecap="round" />
<rect x="187.7" y="214.5" width="138" height="111" fill="none" stroke="#a8a8a8" stroke-width="1"/>
<line x1="187.7" y1="325.3" x2="189.2" y2="325.3" stroke="#999" stroke-width="0.8" />
<text x="175.72" y="327.56" font-family="'Liberation Sans', sans-serif" font-size="6.3" fill="#222" stroke="#222" stroke-width="0.15" textLength="9.38" lengthAdjust="spacingAndGlyphs">0.0</text>
<line x1="187.7" y1="305.22" x2="189.2" y2="305.22" stroke="#999" stroke-width="0.8" />
<text x="175.72" y="307.48" font-family="'Liberation Sans', sans-serif" font-size="6.3" fill="#222" stroke="#222" stroke-width="0.15" textLength="9.38" lengthAdjust="spacingAndGlyphs">0.2</text>
<line x1="187.7" y1="285.14" x2="189.2" y2="285.14" stroke="#999" stroke-width="0.8" />
<text x="175.72" y="287.4" font-family="'Liberation Sans', sans-serif" font-size="6.3" fill="#222" stroke="#222" stroke-width="0.15" textLength="9.38" lengthAdjust="spacingAndGlyphs">0.4</text>
<line x1="187.7" y1="265.06" x2="189.2" y2="265.06" stroke="#999" stroke-width="0.8" />
<text x="175.72" y="267.32" font-family="'Liberation Sans', sans-serif" font-size="6.3" fill="#222" stroke="#222" stroke-width="0.15" textLength="9.38" lengthAdjust="spacingAndGlyphs">0.6</text>
<line x1="187.7" y1="244.98" x2="189.2" y2="244.98" stroke="#999" stroke-width="0.8" />
<text x="175.72" y="247.24" font-family="'Liberation Sans', sans-serif" font-size="6.3" fill="#222" stroke="#222" stroke-width="0.15" textLength="9.38" lengthAdjust="spacingAndGlyphs">0.8</text>
<line x1="187.7" y1="224.9" x2="189.2" y2="224.9" stroke="#999" stroke-width="0.8" />
<text x="175.72" y="227.16" font-family="'Liberation Sans', sans-serif" font-size="6.3" fill="#222" stroke="#222" stroke-width="0.15" textLength="9.38" lengthAdjust="spacingAndGlyphs">1.0</text>
<line x1="187.7" y1="325.5" x2="187.7" y2="324" stroke="#999" stroke-width="0.8" />
<text x="185.82" y="332.06" font-family="'Liberation Sans', sans-serif" font-size="6.3" fill="#222" stroke="#222" stroke-width="0.15" textLength="3.75" lengthAdjust="spacingAndGlyphs">0</text>
<line x1="211.6" y1="325.5" x2="211.6" y2="324" stroke="#999" stroke-width="0.8" />
<text x="205.97" y="332.06" font-family="'Liberation Sans', sans-serif" font-size="6.3" fill="#222" stroke="#222" stroke-width="0.15" textLength="11.26" lengthAdjust="spacingAndGlyphs">200</text>
<line x1="235.5" y1="325.5" x2="235.5" y2="324" stroke="#999" stroke-width="0.8" />
<text x="229.87" y="332.06" font-family="'Liberation Sans', sans-serif" font-size="6.3" fill="#222" stroke="#222" stroke-width="0.15" textLength="11.26" lengthAdjust="spacingAndGlyphs">400</text>
<line x1="259.4" y1="325.5" x2="259.4" y2="324" stroke="#999" stroke-width="0.8" />
<text x="253.77" y="332.06" font-family="'Liberation Sans', sans-serif" font-size="6.3" fill="#222" stroke="#222" stroke-width="0.15" textLength="11.26" lengthAdjust="spacingAndGlyphs">600</text>
<line x1="283.3" y1="325.5" x2="283.3" y2="324" stroke="#999" stroke-width="0.8" />
<text x="277.67" y="332.06" font-family="'Liberation Sans', sans-serif" font-size="6.3" fill="#222" stroke="#222" stroke-width="0.15" textLength="11.26" lengthAdjust="spacingAndGlyphs">800</text>
<line x1="307.2" y1="325.5" x2="307.2" y2="324" stroke="#999" stroke-width="0.8" />
<text x="299.69" y="332.06" font-family="'Liberation Sans', sans-serif" font-size="6.3" fill="#222" stroke="#222" stroke-width="0.15" textLength="15.02" lengthAdjust="spacingAndGlyphs">1000</text>
<text x="-33.61" y="0" transform="translate(173.1 269.8) rotate(-90)" font-family="'Liberation Sans', sans-serif" font-size="6.4" fill="#222" stroke="#222" stroke-width="0.15" textLength="67.22" lengthAdjust="spacingAndGlyphs">Normalized Intensity</text>
<text x="224.16" y="338.93" font-family="'Liberation Sans', sans-serif" font-size="6.5" fill="#222" stroke="#222" stroke-width="0.15" textLength="54.07" lengthAdjust="spacingAndGlyphs">Energy Loss (eV)</text>
<rect x="242.2" y="218.2" width="80.5" height="20.5" fill="white" stroke="#dcdcdc" stroke-width="0.8"/>
<line x1="244.7" y1="223.4" x2="258.7" y2="223.4" stroke="#1f77b4" stroke-width="1.1" />
<text x="263.6" y="226.21" font-family="'Liberation Sans', sans-serif" font-size="7.3" fill="#222" stroke="#222" stroke-width="0.15" textLength="56.68" lengthAdjust="spacingAndGlyphs">before expanding</text>
<line x1="244.7" y1="232.6" x2="258.7" y2="232.6" stroke="#ff7f0e" stroke-width="1.1" />
<text x="263.6" y="235.41" font-family="'Liberation Sans', sans-serif" font-size="7.3" fill="#222" stroke="#222" stroke-width="0.15" textLength="47.18" lengthAdjust="spacingAndGlyphs">add expansion</text>
<rect x="217.7" y="241.5" width="100" height="53" fill="white" stroke="#777" stroke-width="0.8"/>
<path d="M217.7 259.8 L235.3 268.6 L236.6 247.5 L238.6 265.6 L240.7 258.4 L242.3 266.8 L257.1 273.2 L258.4 265.1 L260.1 273.2 L262.9 272.7 L264.7 274 L278.8 278.2 L302 285.2 L303.1 277.4 L304.8 285.7 L309 283.6 L311 285.7 L317.7 286.9" fill="none" stroke="#1f77b4" stroke-width="0.95" stroke-linejoin="round" stroke-linecap="round" />
<path d="M217.7 259.6 L237.5 269 L239.5 247.2 L240.9 265.3 L242.8 258.4 L244.5 267.3 L257.9 273.2 L260.8 265.1 L262.1 273.5 L265.1 272.7 L266.7 274 L278.8 278.2 L305.5 285 L307 277.4 L308.5 285.5 L311.2 283.8 L312.7 285.7 L317.7 286.6" fill="none" stroke="#ff7f0e" stroke-width="0.95" stroke-linejoin="round" stroke-linecap="round" />
<line x1="217.7" y1="241.5" x2="218.9" y2="241.5" stroke="#777" stroke-width="0.6" />
<text x="204.9" y="243.85" font-family="'Liberation Sans', sans-serif" font-size="4.9" fill="#222" stroke="#222" stroke-width="0.15" textLength="10.8" lengthAdjust="spacingAndGlyphs">0.05</text>
<line x1="217.7" y1="254.75" x2="218.9" y2="254.75" stroke="#777" stroke-width="0.6" />
<text x="204.9" y="257.15" font-family="'Liberation Sans', sans-serif" font-size="4.9" fill="#222" stroke="#222" stroke-width="0.15" textLength="10.8" lengthAdjust="spacingAndGlyphs">0.04</text>
<line x1="217.7" y1="268" x2="218.9" y2="268" stroke="#777" stroke-width="0.6" />
<text x="204.9" y="270.45" font-family="'Liberation Sans', sans-serif" font-size="4.9" fill="#222" stroke="#222" stroke-width="0.15" textLength="10.8" lengthAdjust="spacingAndGlyphs">0.03</text>
<line x1="217.7" y1="281.25" x2="218.9" y2="281.25" stroke="#777" stroke-width="0.6" />
<text x="204.9" y="283.75" font-family="'Liberation Sans', sans-serif" font-size="4.9" fill="#222" stroke="#222" stroke-width="0.15" textLength="10.8" lengthAdjust="spacingAndGlyphs">0.02</text>
<line x1="217.7" y1="294.5" x2="218.9" y2="294.5" stroke="#777" stroke-width="0.6" />
<text x="204.9" y="297.05" font-family="'Liberation Sans', sans-serif" font-size="4.9" fill="#222" stroke="#222" stroke-width="0.15" textLength="10.8" lengthAdjust="spacingAndGlyphs">0.01</text>
<line x1="223.5" y1="294.5" x2="223.5" y2="293.3" stroke="#777" stroke-width="0.6" />
<text x="219.51" y="300.15" font-family="'Liberation Sans', sans-serif" font-size="4.9" fill="#222" stroke="#222" stroke-width="0.15" textLength="7.98" lengthAdjust="spacingAndGlyphs">600</text>
<line x1="254.8" y1="294.5" x2="254.8" y2="293.3" stroke="#777" stroke-width="0.6" />
<text x="250.81" y="300.15" font-family="'Liberation Sans', sans-serif" font-size="4.9" fill="#222" stroke="#222" stroke-width="0.15" textLength="7.98" lengthAdjust="spacingAndGlyphs">700</text>
<line x1="286.1" y1="294.5" x2="286.1" y2="293.3" stroke="#777" stroke-width="0.6" />
<text x="282.11" y="300.15" font-family="'Liberation Sans', sans-serif" font-size="4.9" fill="#222" stroke="#222" stroke-width="0.15" textLength="7.98" lengthAdjust="spacingAndGlyphs">800</text>
<line x1="317.4" y1="294.5" x2="317.4" y2="293.3" stroke="#777" stroke-width="0.6" />
<text x="313.41" y="300.15" font-family="'Liberation Sans', sans-serif" font-size="4.9" fill="#222" stroke="#222" stroke-width="0.15" textLength="7.98" lengthAdjust="spacingAndGlyphs">900</text>
<text x="250.5" y="365.3" font-family="'Liberation Serif', serif" font-size="15.6" fill="#111" stroke="#111" stroke-width="0.25" text-anchor="middle" >e. add expansion</text>
<path d="M361.44 224.9 L362.28 244.98 L363.11 259.84 L363.82 267.77 L365.01 277.91 L365.97 285.74 L367.16 291.36 L368.94 294.78 L370.96 298.59 L372.04 301.51 L373.46 304.22 L376.56 308.93 L380.6 312.75 L384.65 315.36 L388.7 316.97 L390.6 312.95 L392.98 315.96 L398.93 318.17 L407.14 319.78 L417.73 320.78 L418.33 320.08 L419.16 320.68 L421.54 321.08 L430.82 321.99 L431.42 321.48 L432.25 321.89 L433.44 322.19 L448.2 323.19 L468.43 323.89 L485.68 324.1" fill="none" stroke="#ff7f0e" stroke-width="0.8" stroke-linejoin="round" stroke-linecap="round" />
<path d="M361.44 224.9 L362.28 244.98 L363.11 259.84 L363.82 267.77 L365.01 277.91 L365.97 285.74 L367.16 291.36 L368.94 294.78 L370.96 298.59 L372.04 301.51 L373.46 304.22 L376.56 308.93 L380.6 312.75 L384.65 315.36 L388.7 316.97 L390.6 312.95 L392.98 315.96 L398.93 318.17 L407.14 319.78 L417.73 320.78 L418.33 320.08 L419.16 320.68 L421.54 321.08 L430.82 321.99 L431.42 321.48 L432.25 321.89 L433.44 322.19 L448.2 323.19 L468.43 323.89 L485.68 324.1" fill="none" stroke="#2ca02c" stroke-width="1.05" stroke-linejoin="round" stroke-linecap="round" />
<rect x="354.9" y="214.5" width="138" height="111" fill="none" stroke="#a8a8a8" stroke-width="1"/>
<line x1="354.9" y1="325.3" x2="356.4" y2="325.3" stroke="#999" stroke-width="0.8" />
<text x="342.92" y="327.56" font-family="'Liberation Sans', sans-serif" font-size="6.3" fill="#222" stroke="#222" stroke-width="0.15" textLength="9.38" lengthAdjust="spacingAndGlyphs">0.0</text>
<line x1="354.9" y1="305.22" x2="356.4" y2="305.22" stroke="#999" stroke-width="0.8" />
<text x="342.92" y="307.48" font-family="'Liberation Sans', sans-serif" font-size="6.3" fill="#222" stroke="#222" stroke-width="0.15" textLength="9.38" lengthAdjust="spacingAndGlyphs">0.2</text>
<line x1="354.9" y1="285.14" x2="356.4" y2="285.14" stroke="#999" stroke-width="0.8" />
<text x="342.92" y="287.4" font-family="'Liberation Sans', sans-serif" font-size="6.3" fill="#222" stroke="#222" stroke-width="0.15" textLength="9.38" lengthAdjust="spacingAndGlyphs">0.4</text>
<line x1="354.9" y1="265.06" x2="356.4" y2="265.06" stroke="#999" stroke-width="0.8" />
<text x="342.92" y="267.32" font-family="'Liberation Sans', sans-serif" font-size="6.3" fill="#222" stroke="#222" stroke-width="0.15" textLength="9.38" lengthAdjust="spacingAndGlyphs">0.6</text>
<line x1="354.9" y1="244.98" x2="356.4" y2="244.98" stroke="#999" stroke-width="0.8" />
<text x="342.92" y="247.24" font-family="'Liberation Sans', sans-serif" font-size="6.3" fill="#222" stroke="#222" stroke-width="0.15" textLength="9.38" lengthAdjust="spacingAndGlyphs">0.8</text>
<line x1="354.9" y1="224.9" x2="356.4" y2="224.9" stroke="#999" stroke-width="0.8" />
<text x="342.92" y="227.16" font-family="'Liberation Sans', sans-serif" font-size="6.3" fill="#222" stroke="#222" stroke-width="0.15" textLength="9.38" lengthAdjust="spacingAndGlyphs">1.0</text>
<line x1="354.9" y1="325.5" x2="354.9" y2="324" stroke="#999" stroke-width="0.8" />
<text x="353.02" y="332.06" font-family="'Liberation Sans', sans-serif" font-size="6.3" fill="#222" stroke="#222" stroke-width="0.15" textLength="3.75" lengthAdjust="spacingAndGlyphs">0</text>
<line x1="378.8" y1="325.5" x2="378.8" y2="324" stroke="#999" stroke-width="0.8" />
<text x="373.17" y="332.06" font-family="'Liberation Sans', sans-serif" font-size="6.3" fill="#222" stroke="#222" stroke-width="0.15" textLength="11.26" lengthAdjust="spacingAndGlyphs">200</text>
<line x1="402.7" y1="325.5" x2="402.7" y2="324" stroke="#999" stroke-width="0.8" />
<text x="397.07" y="332.06" font-family="'Liberation Sans', sans-serif" font-size="6.3" fill="#222" stroke="#222" stroke-width="0.15" textLength="11.26" lengthAdjust="spacingAndGlyphs">400</text>
<line x1="426.6" y1="325.5" x2="426.6" y2="324" stroke="#999" stroke-width="0.8" />
<text x="420.97" y="332.06" font-family="'Liberation Sans', sans-serif" font-size="6.3" fill="#222" stroke="#222" stroke-width="0.15" textLength="11.26" lengthAdjust="spacingAndGlyphs">600</text>
<line x1="450.5" y1="325.5" x2="450.5" y2="324" stroke="#999" stroke-width="0.8" />
<text x="444.87" y="332.06" font-family="'Liberation Sans', sans-serif" font-size="6.3" fill="#222" stroke="#222" stroke-width="0.15" textLength="11.26" lengthAdjust="spacingAndGlyphs">800</text>
<line x1="474.4" y1="325.5" x2="474.4" y2="324" stroke="#999" stroke-width="0.8" />
<text x="466.89" y="332.06" font-family="'Liberation Sans', sans-serif" font-size="6.3" fill="#222" stroke="#222" stroke-width="0.15" textLength="15.02" lengthAdjust="spacingAndGlyphs">1000</text>
<text x="-33.61" y="0" transform="translate(340.3 269.8) rotate(-90)" font-family="'Liberation Sans', sans-serif" font-size="6.4" fill="#222" stroke="#222" stroke-width="0.15" textLength="67.22" lengthAdjust="spacingAndGlyphs">Normalized Intensity</text>
<text x="391.36" y="338.93" font-family="'Liberation Sans', sans-serif" font-size="6.5" fill="#222" stroke="#222" stroke-width="0.15" textLength="54.07" lengthAdjust="spacingAndGlyphs">Energy Loss (eV)</text>
<rect x="419.6" y="218.2" width="70.6" height="20.5" fill="white" stroke="#dcdcdc" stroke-width="0.8"/>
<line x1="422" y1="223.4" x2="435.6" y2="223.4" stroke="#ff7f0e" stroke-width="1.1" />
<text x="440.6" y="226.21" font-family="'Liberation Sans', sans-serif" font-size="7.3" fill="#222" stroke="#222" stroke-width="0.15" textLength="46.71" lengthAdjust="spacingAndGlyphs">before shifting</text>
<line x1="422" y1="232.6" x2="435.6" y2="232.6" stroke="#2ca02c" stroke-width="1.1" />
<text x="440.6" y="235.41" font-family="'Liberation Sans', sans-serif" font-size="7.3" fill="#222" stroke="#222" stroke-width="0.15" textLength="31.48" lengthAdjust="spacingAndGlyphs">add shifts</text>
<rect x="384.9" y="241.5" width="100" height="53" fill="white" stroke="#777" stroke-width="0.8"/>
<path d="M384.9 259.6 L404.7 269 L406.7 247.2 L408.1 265.3 L410 258.4 L411.7 267.3 L425.1 273.2 L428 265.1 L429.3 273.5 L432.3 272.7 L433.9 274 L446 278.2 L472.7 285 L474.2 277.4 L475.7 285.5 L478.4 283.8 L479.9 285.7 L484.9 286.6" fill="none" stroke="#ff7f0e" stroke-width="0.95" stroke-linejoin="round" stroke-linecap="round" />
<path d="M384.9 257.6 L407.9 268.1 L410 247.2 L411.7 265.6 L413.7 258.1 L415.4 266.8 L430.5 272.3 L431.8 265.1 L433 272.8 L436.3 272.8 L437.9 273.8 L476.5 284.6 L477.9 277.4 L479 285.2 L483.2 283.2 L484.9 285.7" fill="none" stroke="#2ca02c" stroke-width="0.95" stroke-linejoin="round" stroke-linecap="round" />
<line x1="384.9" y1="241.5" x2="386.1" y2="241.5" stroke="#777" stroke-width="0.6" />
<text x="372.1" y="243.85" font-family="'Liberation Sans', sans-serif" font-size="4.9" fill="#222" stroke="#222" stroke-width="0.15" textLength="10.8" lengthAdjust="spacingAndGlyphs">0.05</text>
<line x1="384.9" y1="254.75" x2="386.1" y2="254.75" stroke="#777" stroke-width="0.6" />
<text x="372.1" y="257.15" font-family="'Liberation Sans', sans-serif" font-size="4.9" fill="#222" stroke="#222" stroke-width="0.15" textLength="10.8" lengthAdjust="spacingAndGlyphs">0.04</text>
<line x1="384.9" y1="268" x2="386.1" y2="268" stroke="#777" stroke-width="0.6" />
<text x="372.1" y="270.45" font-family="'Liberation Sans', sans-serif" font-size="4.9" fill="#222" stroke="#222" stroke-width="0.15" textLength="10.8" lengthAdjust="spacingAndGlyphs">0.03</text>
<line x1="384.9" y1="281.25" x2="386.1" y2="281.25" stroke="#777" stroke-width="0.6" />
<text x="372.1" y="283.75" font-family="'Liberation Sans', sans-serif" font-size="4.9" fill="#222" stroke="#222" stroke-width="0.15" textLength="10.8" lengthAdjust="spacingAndGlyphs">0.02</text>
<line x1="384.9" y1="294.5" x2="386.1" y2="294.5" stroke="#777" stroke-width="0.6" />
<text x="372.1" y="297.05" font-family="'Liberation Sans', sans-serif" font-size="4.9" fill="#222" stroke="#222" stroke-width="0.15" textLength="10.8" lengthAdjust="spacingAndGlyphs">0.01</text>
<line x1="390.7" y1="294.5" x2="390.7" y2="293.3" stroke="#777" stroke-width="0.6" />
<text x="386.71" y="300.15" font-family="'Liberation Sans', sans-serif" font-size="4.9" fill="#222" stroke="#222" stroke-width="0.15" textLength="7.98" lengthAdjust="spacingAndGlyphs">600</text>
<line x1="422" y1="294.5" x2="422" y2="293.3" stroke="#777" stroke-width="0.6" />
<text x="418.01" y="300.15" font-family="'Liberation Sans', sans-serif" font-size="4.9" fill="#222" stroke="#222" stroke-width="0.15" textLength="7.98" lengthAdjust="spacingAndGlyphs">700</text>
<line x1="453.3" y1="294.5" x2="453.3" y2="293.3" stroke="#777" stroke-width="0.6" />
<text x="449.31" y="300.15" font-family="'Liberation Sans', sans-serif" font-size="4.9" fill="#222" stroke="#222" stroke-width="0.15" textLength="7.98" lengthAdjust="spacingAndGlyphs">800</text>
<line x1="484.6" y1="294.5" x2="484.6" y2="293.3" stroke="#777" stroke-width="0.6" />
<text x="480.61" y="300.15" font-family="'Liberation Sans', sans-serif" font-size="4.9" fill="#222" stroke="#222" stroke-width="0.15" textLength="7.98" lengthAdjust="spacingAndGlyphs">900</text>
<text x="419.9" y="365.3" font-family="'Liberation Serif', serif" font-size="15.6" fill="#111" stroke="#111" stroke-width="0.25" text-anchor="middle" >f. add horizontal shift</text>
<path d="M529.04 224.9 L529.88 244.98 L530.71 259.84 L531.42 267.77 L532.62 277.91 L533.57 285.74 L534.76 291.36 L536.54 294.78 L538.57 298.59 L539.64 301.51 L541.06 304.22 L544.16 308.93 L548.2 312.75 L552.25 315.36 L556.3 316.97 L558.2 312.95 L560.58 315.96 L563.56 316.92 L566.53 318.17 L569.27 318.4 L572 319.49 L574.74 319.78 L577.39 320.37 L580.04 319.99 L582.68 320.74 L585.33 320.78 L585.93 320.08 L586.76 320.68 L589.14 321.08 L591.46 321.25 L593.78 321.29 L596.1 321.62 L598.42 321.99 L599.02 321.48 L599.85 321.89 L601.04 322.19 L603.5 322.54 L605.96 322.78 L608.42 322.37 L610.88 322.94 L613.34 322.71 L615.8 323.19 L618.04 323.42 L620.29 323.23 L622.54 323.69 L624.79 323.84 L627.03 323.59 L629.28 324.01 L631.53 323.6 L633.78 323.52 L636.03 323.89 L638.49 323.99 L640.96 323.62 L643.42 323.77 L645.89 323.94 L648.35 324.12 L650.82 323.83 L653.28 324.1" fill="none" stroke="#d62728" stroke-width="1.05" stroke-linejoin="round" stroke-linecap="round" />
<rect x="522.5" y="214.5" width="138" height="111" fill="none" stroke="#a8a8a8" stroke-width="1"/>
<line x1="522.5" y1="325.3" x2="524" y2="325.3" stroke="#999" stroke-width="0.8" />
<text x="510.52" y="327.56" font-family="'Liberation Sans', sans-serif" font-size="6.3" fill="#222" stroke="#222" stroke-width="0.15" textLength="9.38" lengthAdjust="spacingAndGlyphs">0.0</text>
<line x1="522.5" y1="305.22" x2="524" y2="305.22" stroke="#999" stroke-width="0.8" />
<text x="510.52" y="307.48" font-family="'Liberation Sans', sans-serif" font-size="6.3" fill="#222" stroke="#222" stroke-width="0.15" textLength="9.38" lengthAdjust="spacingAndGlyphs">0.2</text>
<line x1="522.5" y1="285.14" x2="524" y2="285.14" stroke="#999" stroke-width="0.8" />
<text x="510.52" y="287.4" font-family="'Liberation Sans', sans-serif" font-size="6.3" fill="#222" stroke="#222" stroke-width="0.15" textLength="9.38" lengthAdjust="spacingAndGlyphs">0.4</text>
<line x1="522.5" y1="265.06" x2="524" y2="265.06" stroke="#999" stroke-width="0.8" />
<text x="510.52" y="267.32" font-family="'Liberation Sans', sans-serif" font-size="6.3" fill="#222" stroke="#222" stroke-width="0.15" textLength="9.38" lengthAdjust="spacingAndGlyphs">0.6</text>
<line x1="522.5" y1="244.98" x2="524" y2="244.98" stroke="#999" stroke-width="0.8" />
<text x="510.52" y="247.24" font-family="'Liberation Sans', sans-serif" font-size="6.3" fill="#222" stroke="#222" stroke-width="0.15" textLength="9.38" lengthAdjust="spacingAndGlyphs">0.8</text>
<line x1="522.5" y1="224.9" x2="524" y2="224.9" stroke="#999" stroke-width="0.8" />
<text x="510.52" y="227.16" font-family="'Liberation Sans', sans-serif" font-size="6.3" fill="#222" stroke="#222" stroke-width="0.15" textLength="9.38" lengthAdjust="spacingAndGlyphs">1.0</text>
<line x1="522.5" y1="325.5" x2="522.5" y2="324" stroke="#999" stroke-width="0.8" />
<line x1="546.4" y1="325.5" x2="546.4" y2="324" stroke="#999" stroke-width="0.8" />
<text x="540.77" y="332.06" font-family="'Liberation Sans', sans-serif" font-size="6.3" fill="#222" stroke="#222" stroke-width="0.15" textLength="11.26" lengthAdjust="spacingAndGlyphs">200</text>
<line x1="570.3" y1="325.5" x2="570.3" y2="324" stroke="#999" stroke-width="0.8" />
<text x="564.67" y="332.06" font-family="'Liberation Sans', sans-serif" font-size="6.3" fill="#222" stroke="#222" stroke-width="0.15" textLength="11.26" lengthAdjust="spacingAndGlyphs">400</text>
<line x1="594.2" y1="325.5" x2="594.2" y2="324" stroke="#999" stroke-width="0.8" />
<text x="588.57" y="332.06" font-family="'Liberation Sans', sans-serif" font-size="6.3" fill="#222" stroke="#222" stroke-width="0.15" textLength="11.26" lengthAdjust="spacingAndGlyphs">600</text>
<line x1="618.1" y1="325.5" x2="618.1" y2="324" stroke="#999" stroke-width="0.8" />
<text x="612.47" y="332.06" font-family="'Liberation Sans', sans-serif" font-size="6.3" fill="#222" stroke="#222" stroke-width="0.15" textLength="11.26" lengthAdjust="spacingAndGlyphs">800</text>
<line x1="642" y1="325.5" x2="642" y2="324" stroke="#999" stroke-width="0.8" />
<text x="634.49" y="332.06" font-family="'Liberation Sans', sans-serif" font-size="6.3" fill="#222" stroke="#222" stroke-width="0.15" textLength="15.02" lengthAdjust="spacingAndGlyphs">1000</text>
<text x="-33.61" y="0" transform="translate(507.9 269.8) rotate(-90)" font-family="'Liberation Sans', sans-serif" font-size="6.4" fill="#222" stroke="#222" stroke-width="0.15" textLength="67.22" lengthAdjust="spacingAndGlyphs">Normalized Intensity</text>
<text x="558.96" y="338.93" font-family="'Liberation Sans', sans-serif" font-size="6.5" fill="#222" stroke="#222" stroke-width="0.15" textLength="54.07" lengthAdjust="spacingAndGlyphs">Energy Loss (eV)</text>
<rect x="569.5" y="218.2" width="88.2" height="20.5" fill="white" stroke="#dcdcdc" stroke-width="0.8"/>
<line x1="571.8" y1="223.4" x2="585.5" y2="223.4" stroke="#2ca02c" stroke-width="1.1" />
<text x="590.4" y="226.21" font-family="'Liberation Sans', sans-serif" font-size="7.3" fill="#222" stroke="#222" stroke-width="0.15" textLength="64.13" lengthAdjust="spacingAndGlyphs">before adding noise</text>
<line x1="571.8" y1="232.6" x2="585.5" y2="232.6" stroke="#d62728" stroke-width="1.1" />
<text x="590.4" y="235.41" font-family="'Liberation Sans', sans-serif" font-size="7.3" fill="#222" stroke="#222" stroke-width="0.15" textLength="31.35" lengthAdjust="spacingAndGlyphs">add noise</text>
<rect x="552.5" y="241.5" width="100" height="53" fill="white" stroke="#777" stroke-width="0.8"/>
<path d="M552.5 257.6 L575.5 268.1 L577.6 247.2 L579.3 265.6 L581.3 258.1 L583 266.8 L598.1 272.3 L599.4 265.1 L600.6 272.8 L603.9 272.8 L605.5 273.8 L644.1 284.6 L645.5 277.4 L646.6 285.2 L650.8 283.2 L652.5 285.7" fill="none" stroke="#2ca02c" stroke-width="0.75" stroke-linejoin="round" stroke-linecap="round" />
<path d="M552.5 257.3 L554.8 258.33 L557.1 259.85 L559.4 260.88 L561.7 261.26 L564 262.37 L566.3 263.53 L568.6 265.28 L570.9 265.88 L573.2 267.13 L575.5 268.1 L577.6 247.2 L579.3 265.6 L581.3 258.1 L583 266.8 L585.52 267.54 L588.03 268.64 L590.55 269.45 L593.07 270.33 L595.58 271.46 L598.1 272.3 L599.4 265.1 L600.6 272.8 L603.9 272.8 L605.5 273.8 L607.77 274.51 L610.04 275.43 L612.31 275.87 L614.58 276.73 L616.85 277.3 L619.12 278.05 L621.39 278.4 L623.66 278.58 L625.94 279.84 L628.21 280.57 L630.48 281.15 L632.75 281.49 L635.02 282.25 L637.29 282.43 L639.56 283.63 L641.83 284.03 L644.1 284.6 L645.5 277.4 L646.6 285.2 L650.8 283.2 L652.5 285.7" fill="none" stroke="#d62728" stroke-width="0.95" stroke-linejoin="round" stroke-linecap="round" />
<line x1="552.5" y1="241.5" x2="553.7" y2="241.5" stroke="#777" stroke-width="0.6" />
<text x="539.7" y="243.85" font-family="'Liberation Sans', sans-serif" font-size="4.9" fill="#222" stroke="#222" stroke-width="0.15" textLength="10.8" lengthAdjust="spacingAndGlyphs">0.05</text>
<line x1="552.5" y1="254.75" x2="553.7" y2="254.75" stroke="#777" stroke-width="0.6" />
<text x="539.7" y="257.15" font-family="'Liberation Sans', sans-serif" font-size="4.9" fill="#222" stroke="#222" stroke-width="0.15" textLength="10.8" lengthAdjust="spacingAndGlyphs">0.04</text>
<line x1="552.5" y1="268" x2="553.7" y2="268" stroke="#777" stroke-width="0.6" />
<text x="539.7" y="270.45" font-family="'Liberation Sans', sans-serif" font-size="4.9" fill="#222" stroke="#222" stroke-width="0.15" textLength="10.8" lengthAdjust="spacingAndGlyphs">0.03</text>
<line x1="552.5" y1="281.25" x2="553.7" y2="281.25" stroke="#777" stroke-width="0.6" />
<text x="539.7" y="283.75" font-family="'Liberation Sans', sans-serif" font-size="4.9" fill="#222" stroke="#222" stroke-width="0.15" textLength="10.8" lengthAdjust="spacingAndGlyphs">0.02</text>
<line x1="552.5" y1="294.5" x2="553.7" y2="294.5" stroke="#777" stroke-width="0.6" />
<text x="539.7" y="297.05" font-family="'Liberation Sans', sans-serif" font-size="4.9" fill="#222" stroke="#222" stroke-width="0.15" textLength="10.8" lengthAdjust="spacingAndGlyphs">0.01</text>
<line x1="558.3" y1="294.5" x2="558.3" y2="293.3" stroke="#777" stroke-width="0.6" />
<text x="554.31" y="300.15" font-family="'Liberation Sans', sans-serif" font-size="4.9" fill="#222" stroke="#222" stroke-width="0.15" textLength="7.98" lengthAdjust="spacingAndGlyphs">600</text>
<line x1="589.6" y1="294.5" x2="589.6" y2="293.3" stroke="#777" stroke-width="0.6" />
<text x="585.61" y="300.15" font-family="'Liberation Sans', sans-serif" font-size="4.9" fill="#222" stroke="#222" stroke-width="0.15" textLength="7.98" lengthAdjust="spacingAndGlyphs">700</text>
<line x1="620.9" y1="294.5" x2="620.9" y2="293.3" stroke="#777" stroke-width="0.6" />
<text x="616.91" y="300.15" font-family="'Liberation Sans', sans-serif" font-size="4.9" fill="#222" stroke="#222" stroke-width="0.15" textLength="7.98" lengthAdjust="spacingAndGlyphs">800</text>
<line x1="652.2" y1="294.5" x2="652.2" y2="293.3" stroke="#777" stroke-width="0.6" />
<text x="648.21" y="300.15" font-family="'Liberation Sans', sans-serif" font-size="4.9" fill="#222" stroke="#222" stroke-width="0.15" textLength="7.98" lengthAdjust="spacingAndGlyphs">900</text>
<text x="596.4" y="365.3" font-family="'Liberation Serif', serif" font-size="15.6" fill="#111" stroke="#111" stroke-width="0.25" text-anchor="middle" >g. add noise</text>
</svg>
</body></html>
